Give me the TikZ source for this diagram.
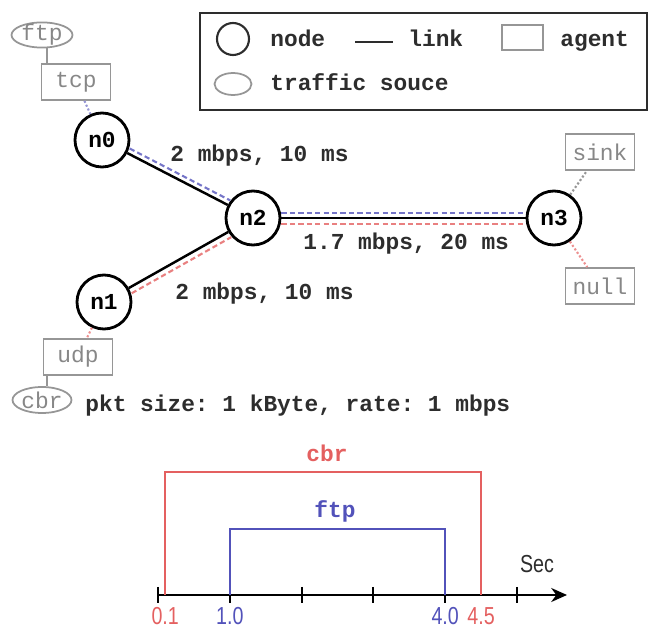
\documentclass[tikz,border=0pt]{standalone}
\usepackage{xcolor}
\usepackage{fontspec}
\setmonofont{Liberation Mono}
\newfontfamily\axisfont[FakeStretch=0.8]{Liberation Sans}
\usepackage{tikz}
\usetikzlibrary{shapes, positioning, calc, arrows.meta}

\definecolor{cbrred}{RGB}{228,96,96}
\definecolor{ftpblue}{RGB}{82,82,186}
\definecolor{agentgray}{RGB}{150,150,150}
\definecolor{inkgray}{RGB}{45,45,45}

\tikzset{
	netnode/.style={circle, draw=black, line width=1.6pt, minimum size=1.08cm, inner sep=0pt, font=\fontsize{13}{15}\selectfont\ttfamily\bfseries},
	agentbox/.style={rectangle, draw=agentgray, line width=1pt, text=agentgray!90!black, minimum width=1.38cm, minimum height=0.72cm, inner sep=0pt, font=\fontsize{13}{15}\selectfont\ttfamily},
	srcnode/.style={ellipse, draw=agentgray, line width=1pt, text=agentgray!90!black, inner xsep=0pt, inner ysep=-1pt, font=\fontsize{13}{15}\selectfont\ttfamily},
	monolabel/.style={inner sep=0pt, anchor=base west, text=inkgray, font=\fontsize{13}{15}\selectfont\ttfamily\bfseries},
	link/.style={line width=1.4pt},
	blueflow/.style={draw=ftpblue!80, line width=1.2pt, dash pattern=on 3pt off 1.8pt},
	redflow/.style={draw=cbrred!80, line width=1.2pt, dash pattern=on 3pt off 1.8pt},
	attach/.style={line width=1.2pt, dash pattern=on 1.2pt off 1.2pt},
	ticklabel/.style={inner sep=0pt, anchor=base, font=\fontsize{14}{16}\selectfont\axisfont}
}

\begin{document}
\begin{tikzpicture}[x=0.02cm, y=-0.02cm]
	\useasboundingbox (0,0) rectangle (650,631);

	\def\tzero{158}
	\def\tunit{71.8}
	\def\taxis{595}

	% legend
	\node (legend) [draw=inkgray, line width=1.2pt, minimum width=8.94cm, minimum height=1.94cm] at (423.5,61.5) {};
	\node (keynode) [netnode, draw=inkgray, line width=1.2pt, minimum size=0.64cm] at (233,39) {};
	\node (keynodetxt) [monolabel] at (270,47) {node};
	\coordinate (keylinea) at (355,42);
	\coordinate (keylineb) at (393,42);
	\draw[inkgray, line width=1.2pt] (keylinea) -- (keylineb);
	\node (keylinktxt) [monolabel] at (408,47) {link};
	\node (keyagent) [agentbox, minimum width=0.82cm, minimum height=0.5cm] at (522.5,37.5) {};
	\node (keyagenttxt) [monolabel] at (560,47) {agent};
	\node (keysrc) [srcnode, minimum width=0.74cm, minimum height=0.44cm] at (233,84) {};
	\node (keysrctxt) [monolabel] at (270,91) {traffic souce};

	% network
	\node (n0) [netnode] at (102,140) {n0};
	\node (n2) [netnode] at (253,218) {n2};
	\node (n3) [netnode] at (554,218) {n3};
	\node (n1) [netnode] at (104,302) {n1};
	\node (tcp) [agentbox] at (76,82) {tcp};
	\node (ftp) [srcnode, minimum width=1.22cm, minimum height=0.44cm] at (42,35) {ftp};
	\node (sink) [agentbox] at (600,152) {sink};
	\node (null) [agentbox] at (600,286) {null};
	\node (udp) [agentbox] at (78,357) {udp};
	\node (cbr) [srcnode, inner ysep=0pt, minimum width=1.18cm, minimum height=0.52cm] at (42,400) {cbr};

	\draw[link] (n0) -- (n2);
	\draw[link] (n1) -- (n2);
	\draw[link] (n2) -- (n3);
	\draw[blueflow, transform canvas={shift={(2.5,-4.5)}}] (n0) -- (n2);
	\draw[blueflow, transform canvas={shift={(0,-5)}}] (n2) -- (n3);
	\draw[redflow, transform canvas={shift={(0,6)}}] (n2) -- (n3);
	\draw[redflow, transform canvas={shift={(3,5.2)}}] (n1) -- (n2);

	\draw[attach, draw=ftpblue!60] (tcp) -- (n0);
	\draw[attach, draw=agentgray] (n3) -- (sink);
	\draw[attach, draw=cbrred!70] (n3) -- (null);
	\draw[attach, draw=cbrred!70] (n1) -- (udp);
	\draw[agentgray, line width=1pt] (ftp.-70) -- (ftp.-70 |- tcp.north);
	\draw[agentgray, line width=1pt] (cbr.70) -- (cbr.70 |- udp.south);

	\node (lbl02) [monolabel] at (170,162) {2 mbps, 10 ms};
	\node (lbl23) [monolabel] at (303,250) {1.7 mbps, 20 ms};
	\node (lbl12) [monolabel] at (175,300) {2 mbps, 10 ms};
	\node (cbrinfo) [monolabel] at (85,412) {pkt size: 1 kByte, rate: 1 mbps};

	% time line
	\coordinate (tstart) at (\tzero,\taxis);
	\coordinate (tend) at (567,\taxis);
	\draw[line width=1.1pt, -{Stealth[length=9pt, width=8pt]}] (tstart) -- (tend);
	\foreach \t in {0,...,5}
		\draw[line width=1.1pt] ({\tzero+\t*\tunit},{\taxis-8}) -- ({\tzero+\t*\tunit},{\taxis+8});

	\draw[cbrred, line width=1.2pt] ({\tzero+0.1*\tunit},\taxis) -- ({\tzero+0.1*\tunit},472) -- ({\tzero+4.5*\tunit},472) -- ({\tzero+4.5*\tunit},\taxis);
	\draw[ftpblue, line width=1.2pt] ({\tzero+1*\tunit},\taxis) -- ({\tzero+1*\tunit},529) -- ({\tzero+4*\tunit},529) -- ({\tzero+4*\tunit},\taxis);

	\node (cbrbar) [monolabel, anchor=base, text=cbrred] at (327,462) {cbr};
	\node (ftpbar) [monolabel, anchor=base, text=ftpblue] at (335,518) {ftp};
	\node (seclbl) [ticklabel, text=inkgray] at (537,573) {Sec};
	\foreach \v/\c [count=\i] in {0.1/cbrred, 1.0/ftpblue, 4.0/ftpblue, 4.5/cbrred}
		\node (tl\i) [ticklabel, text=\c] at ({\tzero+\v*\tunit},625) {\v};
\end{tikzpicture}
\end{document}
